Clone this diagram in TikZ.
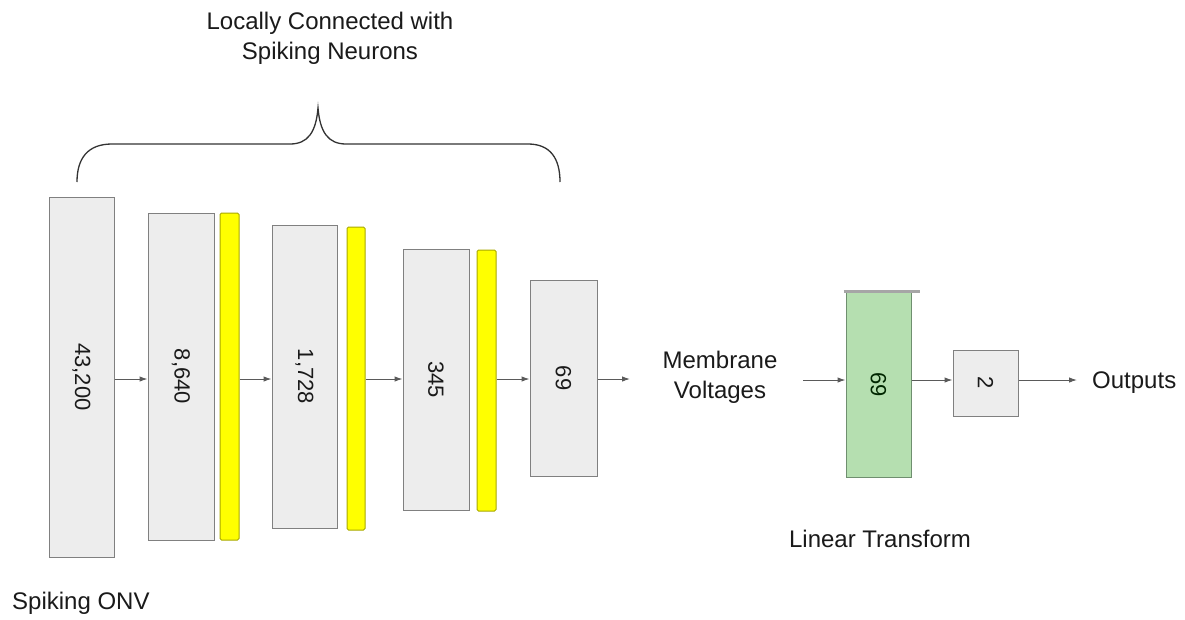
\documentclass[tikz,border=0pt]{standalone}
\usepackage{fontspec}
\setmainfont{Liberation Sans}
\usetikzlibrary{arrows.meta}
\definecolor{boxfill}{HTML}{EDEDED}
\definecolor{boxline}{HTML}{808080}
\definecolor{yelfill}{HTML}{FFFF00}
\definecolor{yelline}{HTML}{A8A800}
\definecolor{grnfill}{HTML}{B5DFB0}
\definecolor{grnline}{HTML}{6F8F6F}
\definecolor{arrcol}{HTML}{5A5A5A}
\definecolor{txtcol}{HTML}{1A1A1A}
\begin{document}
\begin{tikzpicture}[x=1pt,y=-1pt,
  every node/.style={text=txtcol},
  graybox/.style={draw=boxline, fill=boxfill, line width=1pt, inner sep=0pt, rectangle},
  yelbox/.style={draw=yelline, fill=yelfill, line width=1pt, inner sep=0pt, rounded corners=1.5pt, rectangle},
  grnbox/.style={draw=grnline, fill=grnfill, line width=1pt, inner sep=0pt, rectangle},
  numtext/.style={rotate=-90, font=\fontsize{22}{26}\selectfont, inner sep=0pt},
  lbl/.style={font=\fontsize{24}{30}\selectfont, inner sep=0pt, align=center},
  conn/.style={draw=arrcol, line width=1pt, -{Latex[length=8pt,width=5.5pt]}},
  bracestyle/.style={draw=black!80, line width=1.3pt}
]
\useasboundingbox (0,0) rectangle (1185,619);
\fill[white] (0,0) rectangle (1185,619);

% boxes
\node[graybox, minimum width=65, minimum height=360] (b1) at (81.5,377) {};
\node[graybox, minimum width=66, minimum height=327] (b2) at (181,376.5) {};
\node[yelbox,  minimum width=19, minimum height=327] (y1) at (229.5,376.5) {};
\node[graybox, minimum width=65, minimum height=303] (b3) at (304.5,376.5) {};
\node[yelbox,  minimum width=18, minimum height=303] (y2) at (356,378.5) {};
\node[graybox, minimum width=66, minimum height=261] (b4) at (436,379.5) {};
\node[yelbox,  minimum width=19, minimum height=261] (y3) at (486.5,380.5) {};
\node[graybox, minimum width=67, minimum height=196] (b5) at (563.5,378) {};
\node[grnbox,  minimum width=65, minimum height=185] (g1) at (878.5,384.5) {};
\draw[draw=gray!70, line width=3.5pt] ([xshift=-2pt]g1.north west) ++(0,0) coordinate (gtl) -- ++(76,0) coordinate (gtr);
\node[graybox, minimum width=65, minimum height=66] (b6) at (985.5,383) {};

% numbers
\node[numtext] (t1) at (b1.center) {43,200};
\node[numtext] (t2) at (b2.center) {8,640};
\node[numtext] (t3) at (b3.center) {1,728};
\node[numtext] (t4) at (b4.center) {345};
\node[numtext] (t5) at (b5.center) {69};
\node[numtext, text=black!85!green] (t6) at (g1.center) {69};
\node[numtext] (t7) at (b6.center) {2};

% labels
\node[lbl] (title) at (330,38) {Locally Connected with\\Spiking Neurons};
\node[lbl, anchor=base west] (onv) at (12,609) {Spiking ONV};
\node[lbl, anchor=base] (lin) at (880,547) {Linear Transform};
\node[lbl] (mv) at (720,377) {Membrane\\Voltages};
\node[lbl, anchor=base west] (out) at (1092,388) {Outputs};

% connectors
\coordinate (ay) at (0,379);
\coordinate (mvout) at (630,379);
\coordinate (mvin) at (803,380);
\draw[conn] (b1.east |- ay) -- (b2.west |- ay);
\draw[conn] (y1.east |- ay) -- (b3.west |- ay);
\draw[conn] (y2.east |- ay) -- (b4.west |- ay);
\draw[conn] (y3.east |- ay) -- (b5.west |- ay);
\draw[conn] (b5.east |- ay) -- (mvout);
\draw[conn] (mvin) -- (g1.west |- mvin);
\draw[conn] (g1.east |- mvin) -- (b6.west |- mvin);
\draw[conn, shorten >=15pt] (b6.east |- mvin) -- (out.west |- mvin);

% brace
\draw[bracestyle] (77,182) .. controls (77,158) and (88,144) .. (112,144)
  -- (290,144) .. controls (308,144) and (316,132) .. (318,108)
  .. controls (320,132) and (328,144) .. (346,144)
  -- (528,144) .. controls (550,144) and (560,158) .. (560,182);
\end{tikzpicture}
\end{document}
